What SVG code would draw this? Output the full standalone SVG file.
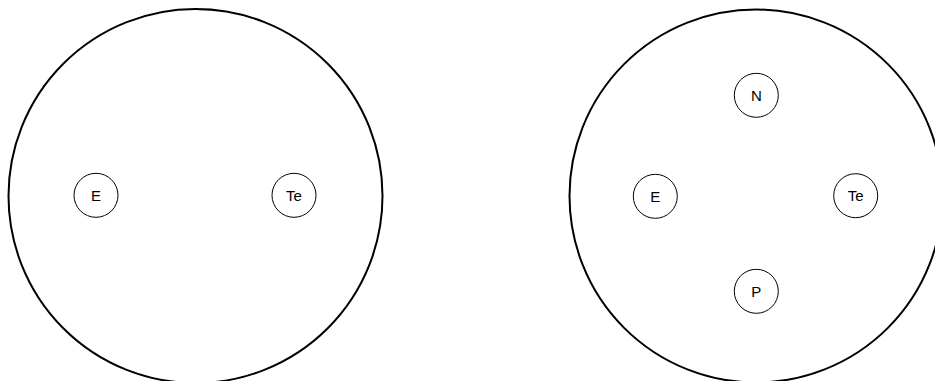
<svg xmlns="http://www.w3.org/2000/svg" width="935" height="381" viewBox="0 0 935 381">
<style>
.big{fill:#fff;stroke:#000;stroke-width:2}
.node circle{fill:#fff;stroke:#000;stroke-width:1}
.node text{font-family:"Liberation Sans",Arial,sans-serif;font-size:15px;fill:#000;text-anchor:middle}
</style>
<rect width="935" height="381" fill="#fff"/>
<g id="set-left"><circle class="big" cx="195.5" cy="196" r="187"/></g>
<g id="set-right"><circle class="big" cx="756" cy="196" r="186.5"/></g>
<g id="connectors"></g>
<g id="l-E" class="node"><circle cx="96" cy="195.3" r="22"/><text x="96" y="200.5">E</text></g>
<g id="l-Te" class="node"><circle cx="294" cy="195.3" r="22"/><text x="294" y="200.5">Te</text></g>
<g id="r-N" class="node"><circle cx="756.3" cy="95.3" r="22"/><text x="756.3" y="100.5">N</text></g>
<g id="r-E" class="node"><circle cx="655.3" cy="196.3" r="22"/><text x="655.3" y="201.5">E</text></g>
<g id="r-Te" class="node"><circle cx="855.7" cy="195.7" r="22"/><text x="855.7" y="200.9">Te</text></g>
<g id="r-P" class="node"><circle cx="756.3" cy="291.3" r="22"/><text x="756.3" y="296.5">P</text></g>
</svg>
